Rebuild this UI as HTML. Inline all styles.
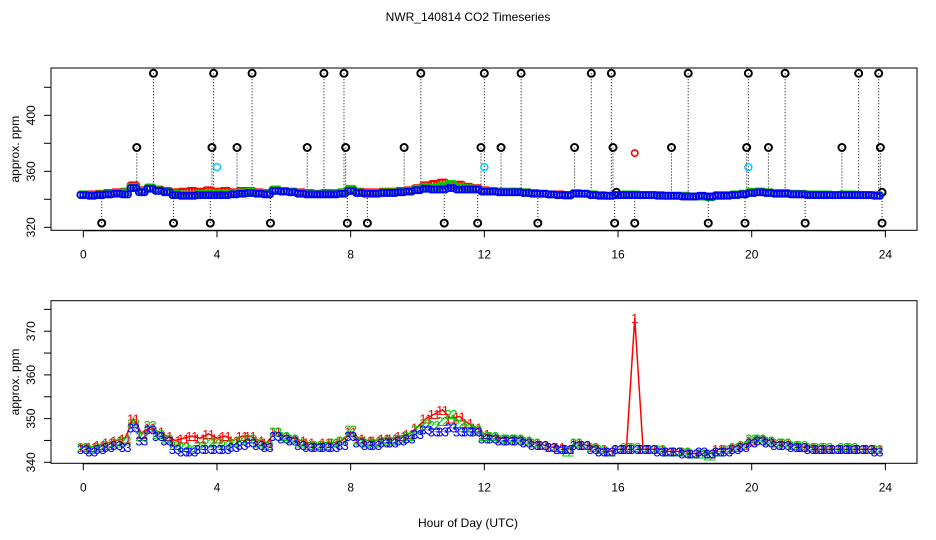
<!DOCTYPE html>
<html><head><meta charset="utf-8"><style>
body{margin:0;background:#fff;}
svg{display:block;font-family:"Liberation Sans",sans-serif;}
</style></head><body>
<svg id="c" width="936" height="540"></svg>
<script>
const hours=[];for(let i=0;i<96;i++)hours.push(i*0.25);
const blueVals=[343,342.5,343,343.5,344,343.5,348,345,347.5,346,345,343,342.5,342.5,343,343,343,343,343.5,344,344.5,344,343.5,346,345.5,345,344,343.5,343.5,343.5,343.5,344,346,344.5,344,344,344.5,344.5,345,345.5,346.5,347.5,347,347,348,347,347,347,345.5,345.5,345,345,345,344.5,344,344,343.5,343,343,344,344,343,342.5,342.5,343,343,343,343,343,342.5,342.5,342.5,342,342,342.5,342,342.5,342.5,343,343.5,344.5,345,344.5,344,344,343.5,343.5,343,343,343,343,343,343,343,343,342.5];
const greenVals=[343.5,343,343.5,344,344.5,345,349,346,348.5,346.5,345.5,344,343.5,343,344,344.5,344.5,344,344.5,345,345.5,344.5,344,347,346,345.5,344.5,344,344,344,344.5,345,347.5,345,344.5,344.5,345,345,345.5,346,347.5,349,348.5,349.5,351,349,348,347.5,346,346,345.5,345.5,345.5,345,344.5,344,343.5,343,342.5,344.5,344,343.5,343,342.5,343,343.5,343.5,343,343,343,342.5,342.5,342.5,342,342,341.5,342.5,343,343.5,344,345.5,345.5,345,344.5,344.5,344,344,343.5,343.5,343.5,343,343.5,343.5,343,343,343];
const redVals=[343.5,343.5,344,344.5,345,345.5,350,346.5,348,347,346,345,345.5,346,345.5,346.5,345.5,346,345,346,346,345,344.5,347,346,345.5,345,344.5,344,344.5,344.5,345,347,345.5,345,345,345.5,345.5,346,346.5,348,350,351,352,350,350.5,349,348,346.5,346,345.5,345.5,345.5,345,344.5,344,343.5,343.5,343,344.5,344,343.5,343,342.5,343,343,373,343,343,343,342.5,342.5,342.5,342,342,342,343,343,343.5,344,345,345.5,345,344.5,344.5,344,343.5,343.5,343,343,343,343,343,343,343,343];
const cyanHours=[4.0,12.0,19.9];
const cyanVals=[363,363,363];
const outHours=[2.1,3.9,5.05,7.2,7.8,10.1,12.0,13.1,15.2,15.8,18.1,19.9,21.0,23.2,23.8,1.6,3.85,4.6,6.7,7.85,9.6,11.9,12.5,14.7,15.85,17.6,19.85,20.5,22.7,23.85,0.55,2.7,3.8,5.6,7.9,8.5,10.8,11.8,13.6,15.9,16.5,18.7,19.8,21.6,23.9,23.9,15.95];
const outVals=[430,430,430,430,430,430,430,430,430,430,430,430,430,430,430,377,377,377,377,377,377,377,377,377,377,377,377,377,377,377,323,323,323,323,323,323,323,323,323,323,323,323,323,323,323,345,345];
const xTicks=[0,4,8,12,16,20,24];
const topTicks=[320,340,360,380,400,420];
const topLabels=[320,360,400];
const botTicks=[340,345,350,355,360,365,370,375];
const botLabels=[340,350,360,370];

const svg=document.getElementById('c');const NS='http://www.w3.org/2000/svg';
function mk(t,a,p){const e=document.createElementNS(NS,t);for(const k in a)e.setAttribute(k,a[k]);(p||svg).appendChild(e);return e;}
const X=h=>83.3+h*33.42;
const Yt=v=>227.3-(v-320)*1.4;
const Yb=v=>462.3-(v-340)*4.37;
const L=51,R=917;
function txt(s,x,y,a,p){const e=mk('text',Object.assign({x:x,y:y,'font-size':12,'text-anchor':'middle'},a||{}),p);e.textContent=s;return e;}

let t=txt('NWR_140814  CO2 Timeseries',468,21);

t=txt('Hour of Day (UTC)',468,527);


function panel(name,top,bot,Y,ticks,labels){
  const g=mk('g',{});
  
  const f=mk('rect',{x:L,y:top,width:R-L,height:bot-top,fill:'none',stroke:'#000'},g);
  
  const xa=mk('g',{},g);
  mk('line',{x1:X(0),x2:X(24),y1:bot+0.5,y2:bot+0.5,stroke:'#000'},xa);
  xTicks.forEach(h=>{mk('line',{x1:X(h),x2:X(h),y1:bot,y2:bot+7,stroke:'#000'},xa);txt(String(h),X(h),bot+28,{},xa);});
  const ya=mk('g',{},g);
  ticks.forEach(v=>mk('line',{x1:L-7,x2:L,y1:Y(v),y2:Y(v),stroke:'#000'},ya));
  labels.forEach(v=>txt(String(v),31,Y(v)+4,{transform:`rotate(-90 ${31} ${Y(v)})`,y:Y(v)+4},ya));
  const yt=txt('approx. ppm',15,(top+bot)/2,{transform:`rotate(-90 15 ${(top+bot)/2})`,y:(top+bot)/2+4},g);
  
  return g;
}
const gt=panel('top-panel',68,230.3,Yt,topTicks,topLabels);
const gb=panel('bottom-panel',300.7,463.3,Yb,botTicks,botLabels);

const og=mk('g',{},gt);
outHours.forEach((h,i)=>{
  mk('line',{x1:X(h),x2:X(h),y1:Yt(outVals[i]),y2:Yt(344),stroke:'#000','stroke-dasharray':'1,2'},og);
});
function offs(v,arr){return v>360?[0]:arr;}
[[redVals,'#f00','red'],[greenVals,'#0c0','green'],[blueVals,'#00f','blue']].forEach(([vals,col,nm])=>{
  const g=mk('g',{},gt);
  vals.forEach((v,i)=>{if(hours[i]>23.8)return;offs(v,[-0.085,0,0.085]).forEach(o=>mk('circle',{cx:X(hours[i]+o),cy:Yt(v),r:3.2,fill:'none',stroke:col,'stroke-width':1.6},g));});
});
outHours.forEach((h,i)=>{
  mk('circle',{cx:X(h),cy:Yt(outVals[i]),r:3.5,fill:'none',stroke:'#000','stroke-width':2},og);
});
const cg=mk('g',{},gt);
cyanHours.forEach((h,i)=>mk('circle',{cx:X(h),cy:Yt(cyanVals[i]),r:3.5,fill:'none',stroke:'#0cf','stroke-width':1.5},cg));

[[redVals,'#f00','red','1'],[greenVals,'#0c0','green','2'],[blueVals,'#00f','blue','3']].forEach(([vals,col,nm,ch])=>{
  const g=mk('g',{},gb);
  const pts=vals.map((v,i)=>X(hours[i])+','+Yb(v)).join(' ');
  mk('polyline',{points:pts,fill:'none',stroke:col,'stroke-width':nm==='red'?1.5:0.6,'stroke-opacity':nm==='red'?1:0.6},g);
  vals.forEach((v,i)=>{offs(v,[-0.085,0.085]).forEach(o=>txt(ch,X(hours[i]+o),Yb(v)+5,{fill:col,'font-size':13},g));});
});
</script>
</body></html>
